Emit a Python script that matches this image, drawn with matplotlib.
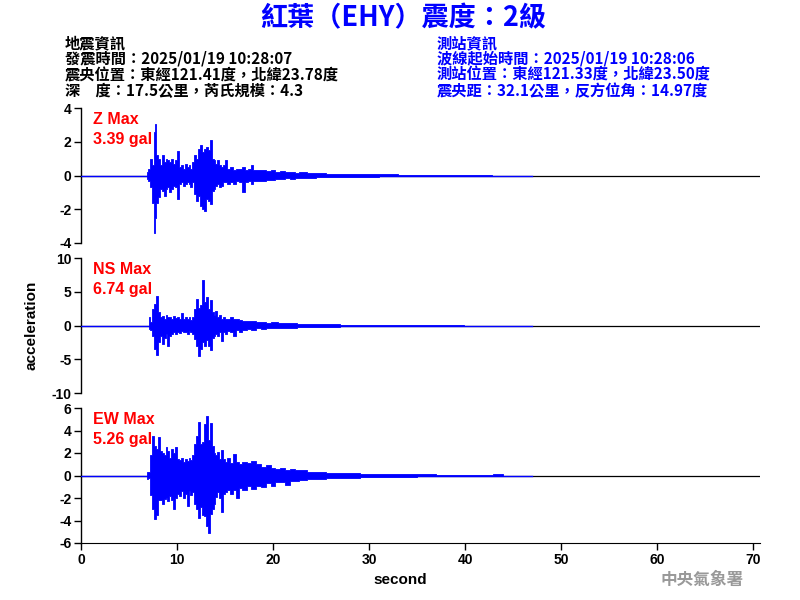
import matplotlib
matplotlib.use("Agg")
import matplotlib.pyplot as plt
import numpy as np

# ---------------- data ----------------
record_end = 47.0

z_t  = [0, 6.8, 6.9, 7.1, 7.3, 7.5, 7.7, 7.8, 7.9, 8.1, 8.3, 8.5, 8.7, 8.9, 9.1, 9.3, 9.5, 9.7, 9.9,
        10.1, 10.3, 10.5, 10.7, 10.9, 11.1, 11.3, 11.5, 11.7, 11.9, 12.1, 12.3, 12.5, 12.7, 12.9,
        13.1, 13.3, 13.5, 13.7, 13.9, 14.1, 14.3, 14.5, 14.7, 14.9, 15.1, 15.4, 15.7, 16.0, 16.3,
        16.6, 16.9, 17.2, 17.5, 17.8, 18.1, 18.5, 19, 19.5, 20, 20.5, 21, 21.5, 22, 22.5, 23, 24,
        25, 26, 27, 28, 30, 32, 34, 36, 38, 40, 42, 42.5, 43]
z_hi = [0, 0, 0.2, 0.4, 1.0, 0.6, 2.6, 3.06, 1.2, 1.0, 0.6, 1.2, 0.8, 1.0, 0.9, 0.8, 1.0, 0.7, 0.9,
        1.45, 0.5, 0.6, 0.4, 0.7, 0.5, 0.6, 0.4, 0.8, 1.2, 1.0, 1.6, 1.8, 1.4, 1.6,
        1.7, 1.5, 2.1, 1.0, 0.9, 0.7, 0.9, 0.6, 0.5, 0.6, 0.9, 0.4, 0.5, 0.3, 0.4,
        0.4, 0.5, 0.3, 0.4, 0.6, 0.3, 0.3, 0.35, 0.25, 0.3, 0.2, 0.25, 0.2, 0.2, 0.15, 0.2, 0.12,
        0.15, 0.1, 0.1, 0.08, 0.06, 0.06, 0.05, 0.05, 0.04, 0.03, 0.03, 0.05, 0]
z_lo = [0, 0, -0.2, -0.3, -0.7, -1.6, -3.39, -2.5, -1.6, -1.3, -0.8, -0.9, -1.2, -0.8, -0.7, -1.0, -0.8, -0.6, -0.7,
        -1.4, -0.5, -0.4, -0.6, -0.5, -0.4, -0.5, -0.7, -0.4, -1.1, -1.5, -1.2, -1.8, -2.0, -2.1,
        -1.4, -1.5, -1.7, -0.9, -0.8, -0.6, -0.5, -0.7, -0.6, -0.4, -0.4, -0.5, -0.4, -0.5, -0.3,
        -0.4, -1.0, -0.4, -0.3, -0.5, -0.3, -0.3, -0.3, -0.25, -0.25, -0.2, -0.2, -0.15, -0.2, -0.15, -0.15, -0.12,
        -0.1, -0.1, -0.08, -0.08, -0.06, -0.05, -0.05, -0.04, -0.04, -0.03, -0.02, 0, 0]

ns_t  = [0, 7.0, 7.1, 7.3, 7.5, 7.7, 7.9, 8.1, 8.3, 8.5, 8.7, 8.9, 9.1, 9.3, 9.5, 9.7, 9.9,
         10.1, 10.3, 10.5, 10.7, 10.9, 11.1, 11.3, 11.5, 11.7, 11.9, 12.1, 12.3, 12.5, 12.7, 12.9,
         13.1, 13.3, 13.5, 13.7, 13.9, 14.1, 14.3, 14.5, 14.7, 14.9, 15.1, 15.4, 15.7, 16.0, 16.3,
         16.6, 17, 17.5, 18, 18.5, 19, 19.5, 20, 21, 22, 23, 24, 25, 26, 28, 30, 32, 34, 36, 38, 39.8, 40]
ns_hi = [0, 0, 1.3, 0.5, 2.5, 3.2, 4.4, 2.0, 1.2, 1.4, 1.0, 1.5, 1.2, 1.3, 1.0, 1.4, 1.1,
         1.3, 1.0, 1.9, 1.0, 1.2, 0.9, 1.3, 0.8, 1.2, 2.5, 4.0, 2.6, 3.0, 6.74, 3.5,
         4.2, 2.5, 3.8, 2.0, 1.5, 2.1, 1.2, 1.5, 1.0, 1.2, 0.9, 1.0, 1.3, 0.9, 1.0,
         0.8, 0.6, 0.7, 0.6, 0.5, 0.5, 0.4, 0.45, 0.35, 0.3, 0.25, 0.2, 0.2, 0.15, 0.12, 0.1, 0.1, 0.08, 0.07, 0.06, 0.1, 0]
ns_lo = [0, 0, -0.5, -0.6, -1.5, -3.5, -4.3, -2.5, -1.5, -2.7, -1.8, -1.2, -3.0, -1.5, -1.2, -1.0, -1.3,
         -0.9, -1.1, -0.8, -1.0, -0.9, -1.2, -0.8, -1.0, -1.2, -2.0, -3.0, -4.5, -3.5, -2.5, -3.0,
         -2.2, -3.0, -3.6, -1.8, -1.5, -1.2, -1.6, -1.0, -2.3, -0.9, -1.2, -0.8, -1.0, -1.6, -0.7,
         -0.9, -0.7, -0.5, -0.6, -0.4, -0.5, -0.4, -0.3, -0.3, -0.3, -0.25, -0.2, -0.15, -0.15, -0.12, -0.1, -0.08, -0.06, -0.05, -0.05, -0.05, 0]

ew_t  = [0, 6.8, 6.9, 7.1, 7.3, 7.5, 7.7, 7.9, 8.1, 8.3, 8.5, 8.7, 8.9, 9.1, 9.3, 9.5, 9.7, 9.9,
         10.1, 10.3, 10.5, 10.7, 10.9, 11.1, 11.3, 11.5, 11.7, 11.9, 12.1, 12.3, 12.5, 12.7, 12.9,
         13.1, 13.3, 13.5, 13.7, 13.9, 14.1, 14.3, 14.5, 14.7, 14.9, 15.1, 15.4, 15.7, 16.0, 16.3,
         16.6, 17, 17.5, 18, 18.5, 19, 19.5, 20, 20.5, 21, 21.5, 22, 22.5, 23, 24, 25, 26, 27, 28,
         30, 32, 34, 36, 38, 40, 42, 43.9, 44]
ew_hi = [0, 0, 0.3, 0.3, 1.8, 3.5, 2.6, 2.4, 3.4, 2.2, 2.0, 1.8, 2.5, 2.2, 1.6, 2.4, 2.0, 2.5,
         1.5, 1.4, 1.6, 1.2, 1.5, 1.3, 1.6, 1.4, 1.8, 2.8, 3.5, 4.8, 2.8, 3.0, 4.6,
         5.26, 3.2, 4.7, 2.6, 2.0, 1.8, 2.1, 1.5, 2.3, 1.5, 1.2, 1.6, 1.1, 1.9, 1.2,
         1.0, 1.2, 1.1, 1.3, 1.0, 0.8, 0.9, 0.7, 0.6, 0.7, 0.5, 0.6, 0.5, 0.45, 0.35, 0.3, 0.25, 0.25, 0.2,
         0.15, 0.12, 0.12, 0.1, 0.08, 0.06, 0.05, 0.1, 0]
ew_lo = [0, 0, -0.3, -0.2, -1.7, -3.0, -3.9, -3.5, -2.2, -2.2, -2.5, -2.1, -2.0, -2.3, -1.8, -2.2, -3.0, -2.0,
         -1.6, -1.8, -1.4, -2.0, -1.6, -2.7, -1.4, -1.7, -1.5, -2.5, -3.0, -3.8, -2.8, -3.5, -3.6,
         -4.5, -5.1, -3.4, -3.0, -2.5, -1.9, -1.5, -2.0, -3.2, -1.6, -1.5, -1.3, -1.6, -1.3, -2.0,
         -1.1, -1.3, -0.9, -1.2, -0.9, -1.0, -0.7, -0.9, -0.6, -0.6, -0.8, -0.5, -0.5, -0.4, -0.35, -0.3, -0.25, -0.2, -0.2,
         -0.15, -0.12, -0.1, -0.08, -0.06, -0.05, -0.04, -0.03, 0]

panels = [
    ("Z Max", "3.39 gal", z_t, z_hi, z_lo, (-4, 4), [-4, -2, 0, 2, 4]),
    ("NS Max", "6.74 gal", ns_t, ns_hi, ns_lo, (-10, 10), [-10, -5, 0, 5, 10]),
    ("EW Max", "5.26 gal", ew_t, ew_hi, ew_lo, (-6, 6), [-6, -4, -2, 0, 2, 4, 6]),
]
x_ticks = [0, 10, 20, 30, 40, 50, 60, 70]

title = "紅葉（EHY）震度：2級"
left_info = ["地震資訊", "發震時間：2025/01/19 10:28:07",
             "震央位置：東經121.41度，北緯23.78度", "深　度：17.5公里，芮氏規模：4.3"]
right_info = ["測站資訊", "波線起始時間：2025/01/19 10:28:06",
              "測站位置：東經121.33度，北緯23.50度", "震央距：32.1公里，反方位角：14.97度"]

# ---------------- drawing ----------------
plt.rcParams['font.family'] = ['Liberation Sans', 'Noto Sans CJK TC', 'DejaVu Sans']
cjk = ['Noto Sans CJK TC', 'DejaVu Sans']
blue = '#0000FF'

fig = plt.figure(figsize=(8, 6), dpi=100)
fig.patch.set_facecolor('white')

L, R = 81 / 800, 760 / 800
tops = [108, 258, 408]
h = 135
for i, (lab, val, t, hi, lo, ylim, yt) in enumerate(panels):
    top = tops[i]
    ax = fig.add_axes([L, 1 - (top + h) / 600, R - L, h / 600])
    ax.axhline(0, color='black', lw=0.9, zorder=1)
    ax.plot([0, record_end], [0, 0], color=blue, lw=1.0, zorder=2)
    ax.fill_between(t, lo, hi, step='mid', color=blue, lw=0.6, edgecolor=blue, zorder=3)
    ax.set_xlim(0, 70.7)
    ax.set_ylim(*ylim)
    ax.set_yticks(yt)
    ax.set_yticklabels([str(v) for v in yt])
    for s in ['top', 'right']:
        ax.spines[s].set_visible(False)
    ax.spines['left'].set_linewidth(1.0)
    ax.tick_params(axis='y', direction='out', length=5, width=1, labelsize=10, pad=2)
    for tl in ax.get_yticklabels():
        tl.set_fontweight('bold')
    if i < 2:
        ax.spines['bottom'].set_visible(False)
        ax.set_xticks([])
    else:
        ax.set_xticks(x_ticks)
        ax.set_xticklabels([str(v) for v in x_ticks])
        ax.tick_params(axis='x', direction='out', length=5, width=1, labelsize=10, pad=2)
        for tl in ax.get_xticklabels():
            tl.set_fontweight('bold')
    ax.text(0.018, 0.915, lab, transform=ax.transAxes, color='#FF0000', fontsize=11.5,
            fontweight='bold', va='center', ha='left')
    ax.text(0.018, 0.765, val, transform=ax.transAxes, color='#FF0000', fontsize=11.5,
            fontweight='bold', va='center', ha='left')

fig.text(32 / 800, 1 - 325 / 600, "acceleration", rotation=90, fontsize=11,
         fontweight='bold', ha='center', va='center')
fig.text(400 / 800, 1 - 580 / 600, "second", fontsize=11, fontweight='bold',
         ha='center', va='center')
fig.text(702 / 800, 1 - 580 / 600, "中央氣象署", fontsize=12, color='#999999',
         ha='center', va='center', family=cjk, fontweight='bold')

fig.text(403 / 800, 1 - 18 / 600, title, fontsize=19.5, color=blue, fontweight='bold',
         ha='center', va='center', family=cjk)
ys = [43, 59, 75, 91]
for y, s in zip(ys, left_info):
    fig.text(65 / 800, 1 - y / 600, s, fontsize=11, color='black', ha='left',
             va='center', family=cjk, fontweight='bold')
for y, s in zip(ys, right_info):
    fig.text(437 / 800, 1 - y / 600, s, fontsize=11, color=blue, ha='left',
             va='center', family=cjk, fontweight='bold')

fig.savefig("out.png", dpi=100, facecolor='white')
